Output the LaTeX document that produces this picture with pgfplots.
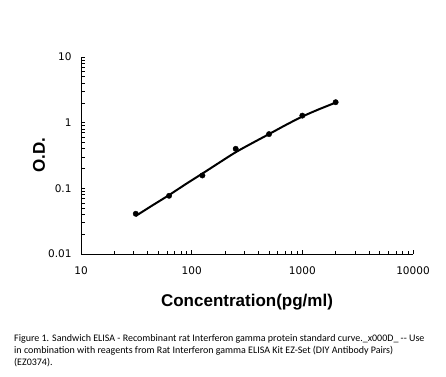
\documentclass[border=0pt]{standalone}
\usepackage{pgfplots}
\pgfplotsset{compat=1.18}
\usepackage{fontspec}
\setmainfont{DejaVu Sans}
\newfontfamily\arialbold{Liberation Sans}
\newfontfamily\calibri{Carlito}
\begin{document}
\begin{tikzpicture}[x=1pt,y=1pt]
\useasboundingbox (0,0) rectangle (446,376);
\begin{axis}[
  at={(81pt,122pt)}, anchor=south west,
  width=332pt, height=197pt, scale only axis,
  xmode=log, ymode=log,
  xmin=10, xmax=10000, ymin=0.01, ymax=10,
  axis lines=left, axis line style={-, line width=0.9pt},
  tick align=inside,
  major tick length=4pt, minor tick length=3.5pt,
  tick style={black, line width=0.7pt},
  xtick={10,100,1000,10000}, xticklabels={10,100,1000,10000},
  ytick={0.01,0.1,1,10}, yticklabels={0.01,0.1,1,10},
  tick label style={font=\fontsize{10.5}{12}\selectfont},
  xticklabel style={yshift=-9pt},
  yticklabel style={xshift=-6pt},
  clip=false,
]
\addplot[black, line width=2pt, smooth] coordinates {
 (31.25,0.038) (44.2,0.055) (62.5,0.079) (88.4,0.116) (125,0.168) (176.8,0.245)
 (250,0.355) (353.6,0.49) (500,0.67) (707,0.92) (1000,1.24) (1414,1.60) (2000,2.02)};
\addplot[only marks, mark=*, mark size=2.7pt, black] coordinates {
 (31.25,0.041) (62.5,0.077) (125,0.157) (250,0.40) (500,0.67) (1000,1.28) (2000,2.05)};
\end{axis}
\node[rotate=90, font=\arialbold\fontsize{17}{20}\selectfont\bfseries] at (39,221) {O.D.};
\node[font=\arialbold\fontsize{17}{20}\selectfont\bfseries] at (247,74) {Concentration(pg/ml)};
\node[anchor=north west, align=left, font=\calibri\fontsize{10}{12.3}\selectfont, inner sep=0pt] at (14,42) {Figure 1. Sandwich ELISA - Recombinant rat Interferon gamma protein standard curve.\_x000D\_ -- Use\\in combination with reagents from Rat Interferon gamma ELISA Kit EZ-Set (DIY Antibody Pairs)\\(EZ0374).};
\end{tikzpicture}
\end{document}
